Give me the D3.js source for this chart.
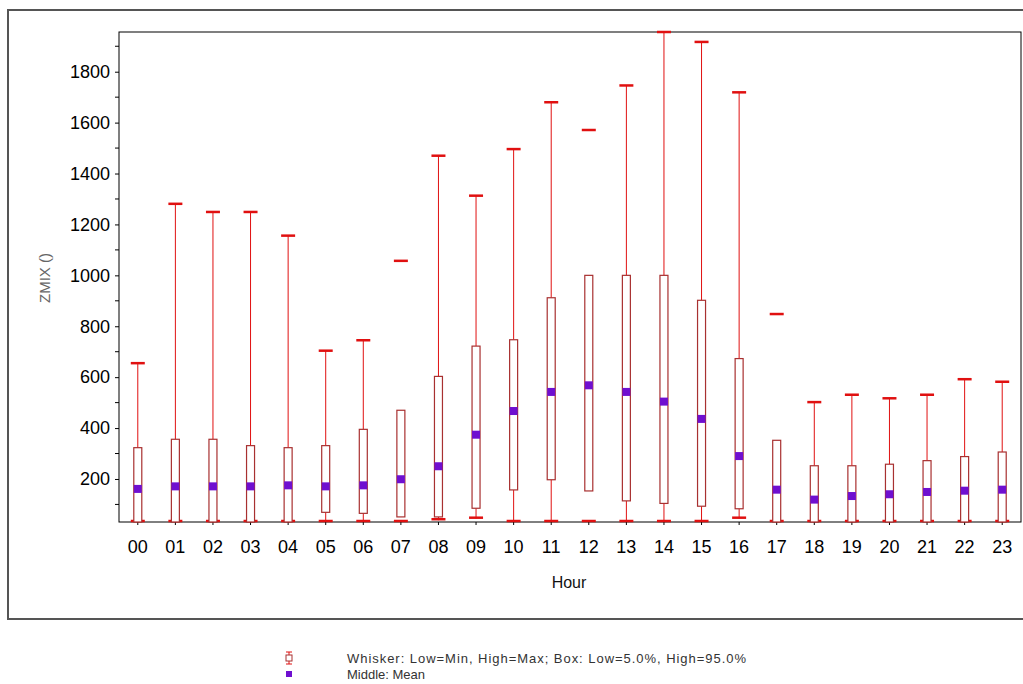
<!DOCTYPE html>
<html>
<head>
<meta charset="utf-8">
<script src="https://cdn.jsdelivr.net/npm/d3@7"></script>
<style>
  body { margin: 0; background: #fff; }
  svg { display: block; font-family: "Liberation Sans", Arial, sans-serif; }
</style>
</head>
<body>
<svg id="chart" width="1023" height="684"></svg>
<script>
const hours = ["00", "01", "02", "03", "04", "05", "06", "07", "08", "09", "10", "11",
  "12", "13", "14", "15", "16", "17", "18", "19", "20", "21", "22", "23"];
const maxValues = [655, 1281, 1249, 1249, 1156, 704, 745, 1057, 1470, 1313, 1496, 1680,
  1571, 1746, 1957, 1917, 1719, 848, 502, 531, 517, 531, 592, 582];
const highValues = [323, 356, 356, 331, 323, 331, 395, 470, 603, 722, 747, 912,
  1000, 1000, 1000, 902, 673, 352, 252, 252, 258, 272, 288, 306];
const lowValues = [30, 30, 30, 30, 30, 69, 65, 51, 51, 85, 157, 197,
  153, 114, 104, 93, 83, 30, 30, 30, 30, 30, 30, 30];
const meanValues = [161, 171, 171, 171, 175, 171, 175, 199, 250, 374, 467, 542,
  568, 542, 504, 436, 290, 158, 119, 133, 140, 149, 154, 158];
const minValues = [30, 30, 30, 30, 30, 30, 30, 30, 38, 44, 30, 30,
  30, 30, 30, 30, 44, 30, 30, 30, 30, 30, 30, 30];
// hours where the plot only shows the cap, not the whisker line
const whiskerLine = hours.map(h => !["07", "12", "17"].includes(h));
const yTicks = [200, 400, 600, 800, 1000, 1200, 1400, 1600, 1800];
const yMinor = [100, 300, 500, 700, 900, 1100, 1300, 1500, 1700, 1900];
const legendLines = ["Whisker: Low=Min, High=Max; Box: Low=5.0%, High=95.0%", "Middle: Mean"];

const rows = hours.map((h, i) => ({
  hour: h, max: maxValues[i], high: highValues[i], low: lowValues[i],
  mean: meanValues[i], min: minValues[i], line: whiskerLine[i]
}));

const svg = d3.select("#chart");
const plot = { left: 119, top: 32, right: 1021, bottom: 522 };
const red = "#e01010";
const boxColor = "#a83030";

// outer frame
svg.append("rect")
  .attr("x", 8).attr("y", 10).attr("width", 1030).attr("height", 609)
  .attr("fill", "none").attr("stroke", "#555").attr("stroke-width", 2);

const x = d3.scaleBand().domain(hours).range([plot.left, plot.right]).padding(0);
const y = d3.scaleLinear().domain([31, 1956]).range([plot.bottom, plot.top]).clamp(true);

// plot frame
svg.append("rect")
  .attr("x", plot.left).attr("y", plot.top)
  .attr("width", plot.right - plot.left).attr("height", plot.bottom - plot.top)
  .attr("fill", "none").attr("stroke", "#000").attr("stroke-width", 1);

// y axis
const yAxis = svg.append("g")
  .attr("transform", `translate(${plot.left},0)`)
  .call(d3.axisLeft(y).tickValues(yTicks).tickFormat(d3.format("d")).tickSize(4).tickPadding(5));
yAxis.select(".domain").remove();
yAxis.selectAll("text").attr("font-size", 18).attr("fill", "#000")
  .attr("font-family", "Liberation Sans, Arial, sans-serif");

svg.append("g").selectAll("line")
  .data(yMinor)
  .join("line")
  .attr("x1", plot.left - 4).attr("x2", plot.left)
  .attr("y1", d => y(d)).attr("y2", d => y(d))
  .attr("stroke", "#000");

// x axis
const xAxis = svg.append("g")
  .attr("transform", `translate(0,${plot.bottom})`)
  .call(d3.axisBottom(x).tickSize(3).tickPadding(15));
xAxis.select(".domain").remove();
xAxis.selectAll("text").attr("font-size", 18).attr("fill", "#000")
  .attr("font-family", "Liberation Sans, Arial, sans-serif");

svg.append("text")
  .attr("x", 569).attr("y", 588)
  .attr("text-anchor", "middle").attr("font-size", 16).attr("fill", "#111")
  .text("Hour");

svg.append("text")
  .attr("transform", "translate(50,278) rotate(-90)")
  .attr("text-anchor", "middle").attr("font-size", 15).attr("fill", "#666")
  .text("ZMIX ()");

// boxes
const g = svg.append("g");
const bw = 8;
const capW = 14;

const item = g.selectAll("g.hour")
  .data(rows)
  .join("g")
  .attr("class", "hour")
  .attr("transform", d => `translate(${x(d.hour) + x.bandwidth() / 2},0)`);

item.filter(d => d.line).append("line")
  .attr("y1", d => y(d.max)).attr("y2", d => y(d.high))
  .attr("stroke", red).attr("stroke-width", 1);
item.filter(d => d.line).append("line")
  .attr("y1", d => y(d.low)).attr("y2", d => y(d.min))
  .attr("stroke", red).attr("stroke-width", 1);

item.append("line")
  .attr("x1", -capW / 2).attr("x2", capW / 2)
  .attr("y1", d => y(d.max)).attr("y2", d => y(d.max))
  .attr("stroke", red).attr("stroke-width", 2.5);
item.append("line")
  .attr("x1", -capW / 2).attr("x2", capW / 2)
  .attr("y1", d => y(d.min) - 1).attr("y2", d => y(d.min) - 1)
  .attr("stroke", red).attr("stroke-width", 2.5);

item.append("rect")
  .attr("x", -bw / 2).attr("width", bw)
  .attr("y", d => y(d.high)).attr("height", d => y(d.low) - y(d.high))
  .attr("fill", "#fff").attr("stroke", boxColor).attr("stroke-width", 1.2);

item.append("rect")
  .attr("x", -4).attr("width", 8)
  .attr("y", d => y(d.mean) - 4).attr("height", 8)
  .attr("fill", "#6f0fd0");

// legend
const legend = svg.append("g").attr("transform", "translate(289,658)");
legend.append("line").attr("x1", 0).attr("x2", 0).attr("y1", -6).attr("y2", 6)
  .attr("stroke", red);
legend.append("line").attr("x1", -3).attr("x2", 3).attr("y1", -6).attr("y2", -6)
  .attr("stroke", red);
legend.append("line").attr("x1", -3).attr("x2", 3).attr("y1", 6).attr("y2", 6)
  .attr("stroke", red);
legend.append("rect").attr("x", -3).attr("y", -3).attr("width", 6).attr("height", 6)
  .attr("fill", "#fff").attr("stroke", boxColor);
legend.append("rect").attr("x", -3).attr("y", 13).attr("width", 6).attr("height", 6)
  .attr("fill", "#6f0fd0");
legend.selectAll("text.leg")
  .data(legendLines)
  .join("text")
  .attr("class", "leg")
  .attr("x", 58).attr("y", (d, i) => 5 + i * 16)
  .attr("font-size", 13).attr("fill", "#333")
  .attr("textLength", (d, i) => i === 0 ? 399 : null)
  .attr("lengthAdjust", "spacing")
  .text(d => d);
</script>
</body>
</html>
